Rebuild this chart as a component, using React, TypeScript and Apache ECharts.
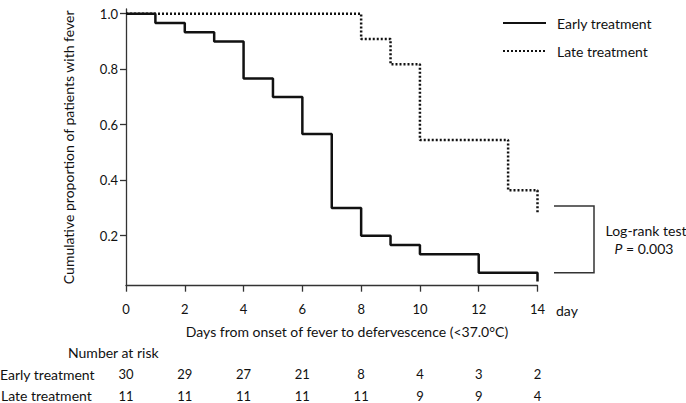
import React, { useEffect, useRef } from "react";
import * as echarts from "echarts";

const xTicks = [0, 2, 4, 6, 8, 10, 12, 14];
const yTicks = [0.2, 0.4, 0.6, 0.8, 1.0];
const earlyTimes = [0, 1, 2, 3, 4, 5, 6, 7, 8, 9, 10, 12, 14];
const earlySurv = [1, 0.967, 0.933, 0.9, 0.767, 0.7, 0.567, 0.3, 0.2, 0.167, 0.133, 0.067, 0.035];
const lateTimes = [0, 8, 9, 10, 13, 14];
const lateSurv = [1, 0.909, 0.818, 0.545, 0.364, 0.28];
const riskDays = [0, 2, 4, 6, 8, 10, 12, 14];
const earlyRisk = [30, 29, 27, 21, 8, 4, 3, 2];
const lateRisk = [11, 11, 11, 11, 11, 9, 9, 4];
const seriesNames = ["Early treatment", "Late treatment"];

const FONT = "Lato";
const INK = "#111";
const AXIS = "#333";
const TS = 14;
const NS = 13;

export default function App() {
  const ref = useRef<HTMLDivElement>(null);
  useEffect(() => {
    if (!ref.current) return;
    const chart = echarts.init(ref.current, null, { renderer: "svg" });
    const option: any = {
      animation: false,
      grid: { left: 126, right: 148.5, top: 9, bottom: 117.3 },
      xAxis: {
        type: "value",
        min: 0,
        max: 14,
        interval: 2,
        axisLine: { show: true, onZero: false, lineStyle: { color: AXIS, width: 1.3 } },
        axisTick: { show: true, length: 6, lineStyle: { color: AXIS, width: 1.3 } },
        axisLabel: { fontFamily: FONT, fontSize: NS, color: INK, margin: 17 },
        splitLine: { show: false },
      },
      yAxis: {
        type: "value",
        min: 0.02,
        max: 1.017,
        name: "Cumulative proportion of patients with fever",
        nameLocation: "middle",
        nameGap: 51,
        nameTextStyle: { fontFamily: FONT, fontSize: TS, color: INK },
        axisLine: { show: true, lineStyle: { color: AXIS, width: 1.3 } },
        axisTick: { show: true, length: 6, customValues: yTicks, lineStyle: { color: AXIS, width: 1.3 } },
        axisLabel: {
          fontFamily: FONT,
          fontSize: NS,
          color: INK,
          margin: 8,
          customValues: yTicks,
          formatter: (v: number) => v.toFixed(1),
        },
        splitLine: { show: false },
      },
      legend: {
        orient: "vertical",
        left: 497,
        top: 11,
        itemWidth: 43,
        itemHeight: 14,
        itemGap: 14,
        data: seriesNames,
        itemStyle: { opacity: 0 },
        textStyle: { fontFamily: FONT, fontSize: TS, color: INK, padding: [0, 0, 0, 6] },
      },
      series: [
        {
          name: seriesNames[1],
          type: "line",
          step: "end",
          symbol: "none",
          data: lateTimes.map((t, i) => [t, lateSurv[i]]),
          lineStyle: { color: INK, width: 2.5, type: [2, 2] },
          itemStyle: { color: INK },
          z: 2,
        },
        {
          name: seriesNames[0],
          type: "line",
          step: "end",
          symbol: "none",
          data: earlyTimes.map((t, i) => [t, earlySurv[i]]),
          lineStyle: { color: INK, width: 2.5 },
          itemStyle: { color: INK },
          z: 3,
        },
      ],
    };
    chart.setOption(option);

    const txt = (text: string, x: number, y: number, align: string, size = TS, extra: any = {}) => ({
      type: "text",
      style: {
        text,
        x,
        y,
        textAlign: align,
        textVerticalAlign: "middle",
        fontFamily: FONT,
        fontSize: size,
        fill: INK,
        ...extra,
      },
    });

    const graphics: any[] = [];
    riskDays.forEach((d, i) => {
      const px = chart.convertToPixel({ xAxisIndex: 0 }, d) as number;
      graphics.push(txt(String(earlyRisk[i]), px, 374, "center", NS));
      graphics.push(txt(String(lateRisk[i]), px, 395.5, "center", NS));
    });
    graphics.push(txt("Number at risk", 68, 352.7, "left"));
    graphics.push(txt("Early treatment", 0, 374, "left"));
    graphics.push(txt("Late treatment", 1, 395.5, "left"));
    graphics.push(txt("day", 556, 310, "left"));
    graphics.push(txt("Days from onset of fever to defervescence (<37.0\u00B0C)", 347, 331.7, "center"));
    graphics.push(txt("Log-rank test", 646, 230, "center"));
    graphics.push(
      txt("{i|P} = 0.003", 644, 248.3, "center", TS, {
        rich: { i: { fontStyle: "italic", fontFamily: FONT, fontSize: TS, fill: INK } },
      })
    );
    graphics.push({
      type: "polyline",
      shape: { points: [[554, 206], [594, 206], [594, 272.7], [554, 272.7]] },
      style: { stroke: AXIS, lineWidth: 1.5, fill: "none" },
    });
    chart.setOption({ graphic: graphics });

    return () => chart.dispose();
  }, []);
  return (
    <div
      ref={ref}
      style={{ position: "fixed", left: 0, top: 0, width: 686, height: 403, background: "#fff" }}
    />
  );
}
